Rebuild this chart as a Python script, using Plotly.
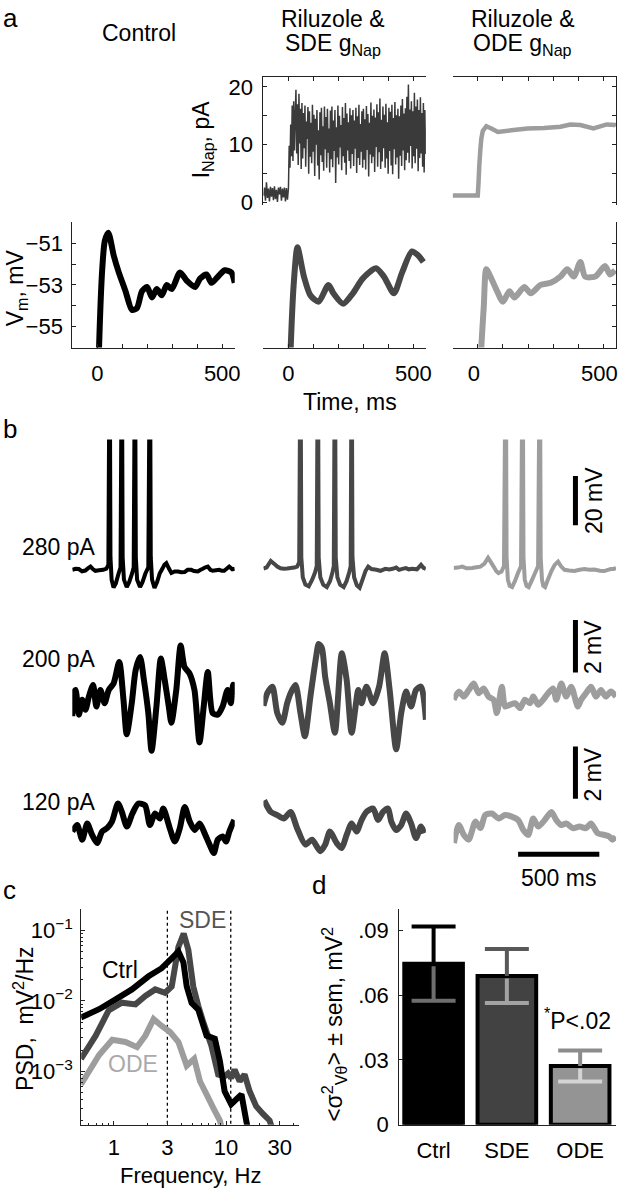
import plotly.graph_objects as go

OX, OY = 0, 0
FW, FH = 628, 1200
FONT = "Liberation Sans, Arial, Helvetica, sans-serif"
C_CTRL, C_SDE, C_ODE = "#000000", "#474747", "#9d9d9d"
TS = 22   # tick label size
LS = 23   # label size

# ================= panel a data =================
time_major = [0, 500]
time_minor = [100, 200, 300, 400]
inap_major = [0, 10, 20]
inap_minor = [5, 15]
vm_major = [-55, -53, -51]
vm_major_text = ["\u221255", "\u221253", "\u221251"]
vm_minor = [-54, -52]

# SDE I_Nap (pA): before step sampled every 4 ms from -100 ms, after step every 3 ms from 0 ms
inap_sde_pre = [1.2, 2.6, 0.3, 3.5, 0.8, 2.4, 0.2, 2.7, 1.0, 2.5, 0.4, 2.8, 0.6, 2.2, 0.1,
                2.6, 1.4, 2.7, 0.3, 2.4, 0.9, 2.6, 0.2, 2.5, 0.5]
inap_sde_post = [
    2.5, 9.8, 6.0, 13.5, 8.0, 16.8, 7.2, 17.5, 9.0, 15.0,
    19.5, 8.5, 17.0, 6.5, 18.8, 10.2, 16.2, 5.8, 17.2, 7.6,
    15.5, 9.4, 16.8, 6.2, 14.0, 11.0, 16.5, 5.0, 15.8, 7.9,
    13.8, 6.8, 16.9, 8.8, 15.2, 4.6, 14.5, 10.0, 16.0, 6.4,
    12.5, 4.0, 15.6, 8.2, 16.4, 7.0, 13.2, 5.5, 16.6, 9.2,
    14.8, 6.0, 16.2, 8.6, 12.8, 5.2, 15.9, 7.5, 16.6, 6.1,
    14.2, 8.9, 16.0, 3.4, 13.0, 7.8, 16.8, 6.6, 15.0, 9.5,
    13.4, 5.6, 16.5, 8.0, 14.6, 6.9, 17.2, 4.8, 15.4, 9.0,
    13.9, 7.2, 16.3, 5.9, 15.1, 8.4, 16.0, 6.3, 14.2, 9.3,
    16.4, 5.1, 14.9, 7.7, 16.9, 6.5, 13.6, 8.8, 15.8, 6.0,
    16.2, 7.4, 14.4, 5.7, 16.7, 9.1, 15.3, 4.5, 13.8, 8.3,
    17.3, 6.8, 15.0, 7.9, 16.1, 5.3, 14.7, 9.6, 17.0, 6.2,
    15.6, 8.7, 18.0, 5.8, 14.3, 7.1, 16.6, 9.4, 15.2, 6.0,
    17.1, 7.6, 13.9, 5.0, 16.4, 8.9, 15.7, 6.4, 16.9, 4.9,
    14.6, 9.2, 17.4, 6.6, 15.1, 7.8, 16.2, 4.1, 14.9, 8.1,
    16.8, 6.3, 17.9, 9.0, 15.4, 5.6, 16.3, 7.3, 18.3, 8.6,
    20.4, 6.9, 16.1, 9.8, 17.5, 5.9, 15.8, 8.0, 19.0, 6.8,
    16.6, 9.3, 17.8, 5.4, 16.0, 7.7, 18.2, 8.5, 15.5, 6.2,
    17.2, 5.2, 16.0, 8.4]
inap_sde_t = [-100 + 4 * i for i in range(len(inap_sde_pre))] + [3 * i for i in range(len(inap_sde_post))]
inap_sde = inap_sde_pre + inap_sde_post

inap_ode_t = [-100, 0, 3, 6, 10, 14, 20, 34, 54, 80, 133, 198, 264, 329, 368, 408, 460, 513, 546, 550]
inap_ode = [1.2, 1.2, 3.5, 6.4, 9.0, 11.0, 12.4, 13.2, 12.8, 12.2, 12.5, 12.8, 12.9, 13.1, 13.5, 13.4, 12.8, 13.5, 13.4, 13.3]

vm_ctrl_t = [0, 7, 20, 30, 44, 66, 86, 113, 139, 159, 179, 199, 219, 238, 258, 278, 298, 331, 358, 391, 411, 437, 457, 483, 510, 536, 550]
vm_ctrl = [-60, -56, -52.2, -50.9, -50.5, -51.6, -52.4, -53.3, -54.2, -54.1, -53.3, -53.1, -53.6, -53.2, -53.5, -53.0,
           -53.2, -52.4, -52.8, -53.1, -52.7, -52.5, -52.9, -52.6, -52.3, -52.4, -52.9]
vm_sde_t = [0, 9, 22, 36, 62, 88, 121, 160, 180, 219, 258, 297, 350, 382, 422, 455, 494, 520, 540]
vm_sde = [-60, -56, -52.8, -51.2, -52.6, -53.5, -53.8, -53.0, -53.4, -53.9, -53.4, -52.7, -52.2, -52.6, -53.4, -52.4,
          -51.4, -51.6, -51.9]
vm_ode_t = [0, 14, 24, 34, 54, 73, 100, 126, 146, 185, 211, 250, 290, 329, 356, 382, 408, 427, 467, 506, 526, 546]
vm_ode = [-60, -56, -54.0, -52.25, -52.7, -53.2, -53.8, -53.3, -53.6, -53.1, -53.4, -53.0, -52.9, -52.6, -52.25, -52.6,
          -51.9, -52.6, -52.6, -52.1, -52.5, -52.3]

# ================= panel b data (ms, mV relative to rest) =================
b280_ctrl_t = [0, 20, 40, 60, 80, 100, 112, 128, 142, 165, 190, 210, 222, 230, 235, 242, 254, 268, 285, 297, 305, 310,
               318, 335, 350, 368, 378, 386, 391, 399, 417, 432, 450, 468, 478, 483, 491, 506, 522, 538, 555, 567, 579,
               595, 610, 630, 651, 670, 691, 710, 732, 750, 773, 790, 803, 820, 834, 850, 864, 885, 905, 920, 935, 950,
               966, 985, 1000]
b280_ctrl = [0, 0.4, 0.3, -0.6, -0.3, 0.8, 1.3, 0.2, -0.4, -0.2, 0, 0.5, 2, 100, 5, -4, -7.2, -5.5, -1.5, 1, 100, 5,
             -4, -7, -5, -1.5, 1, 100, 5, -4, -7, -5, -1.5, 1, 100, 5, -4, -7.3, -5, -1.5, 0.5, 2, 2.7,
             0.5, -1.3, -0.7, -0.7, -1, -0.9, 0, 0, -0.5, -0.7, 0, 0.4, 1.0, 1.3, 0, -0.4, -0.2, 0, -0.4, -0.4, 0.4,
             1.3, 0.2, 0.4]
b280_sde_t = [0, 20, 45, 65, 85, 105, 126, 146, 167, 190, 207, 220, 228, 233, 242, 258, 279, 300, 318, 328, 335, 340,
              350, 368, 390, 410, 425, 433, 440, 445, 455, 472, 494, 512, 528, 537, 543, 548, 558, 575, 592, 610, 628,
              645, 665, 695, 720, 750, 775, 795, 817, 835, 855, 877, 895, 915, 945, 970, 985, 1000]
b280_sde = [0.5, 1.0, 3.6, 2.5, 1.3, 0.6, 0.4, 0.5, 0.7, 0.9, 1.3, 3, 100, 5, -3, -6, -6.7, -4, -1, 1.5, 100, 5,
            -3, -6, -7, -4.5, -1, 1.5, 100, 5, -3, -6, -7, -4.5, -1, 1.5, 100, 5, -3, -6.3, -7.3, -4, -0.5,
            1.3, 0.3, 0, -0.4, 0.4, 0.1, 0.4, 0.9, 0, 0.4, 0.7, 0.2, 0.4, 0.2, 2, 0.8, 0.4]
b280_ode_t = [0, 25, 53, 80, 114, 140, 165, 190, 212, 230, 246, 262, 276, 295, 310, 321, 326, 334, 345, 360, 378, 395,
              415, 425, 430, 438, 449, 462, 480, 500, 520, 531, 536, 544, 552, 563, 580, 602, 622, 643, 660, 683, 710,
              744, 775, 805, 835, 866, 900, 927, 950, 968, 985, 1000]
b280_ode = [0.7, 0.9, 1.3, 0.6, 0.7, 1.0, 1.3, 2.5, 4.9, 3, 1.3, -0.5, -1.3, -0.7, 1.5, 100, 5, -4, -6.5, -7, -4.5, -1.5,
            1.5, 100, 5, -4, -6.5, -7, -4.5, -1.5, 1.5, 100, 5, -4, -6.5, -7, -4, -0.5, 2, 3.3, 1.5, 0, -0.3,
            -0.5, 0, 0.3, 0, 0.1, -0.4, -0.5, 0, 0.3, 0.3, 0.8]

b200_ctrl_t = [0, 10, 20, 41, 61, 81, 102, 128, 148, 173, 199, 224, 254, 289, 315, 335, 366, 390, 417, 441, 468, 488,
               518, 545, 569, 594, 610, 640, 667, 691, 722, 752, 783, 809, 834, 864, 895, 925, 956, 976, 990, 1000]
b200_ctrl = [-0.5, 0.4, 0.5, -0.44, 0.13, -0.25, 0.25, 0.69, -0.13, 0.5, 0, 0.5, 0.75, 1.57, 0.13, -1.19, 0, 1.26,
             1.76, 0.88, -0.38, -1.82, -0.13, 1.7, 0.88, -0.13, -0.75, 0.5, 2.2, 1.38, 1.13, 0.5, -1.5, -0.13, 1.19,
             -0.38, -0.44, -0.13, 0.5, 0, 0.7, 0.3]
b200_sde_t = [0, 25, 55, 85, 116, 146, 167, 197, 228, 255, 290, 325, 340, 360, 380, 409, 440, 482, 512, 543, 584, 604,
              634, 675, 712, 746, 777, 817, 848, 878, 909, 939, 970, 1000]
b200_sde = [-0.1, 0.4, 0.63, -0.38, -0.75, 0, 0.38, 0.69, -0.38, -1.26, 0.3, 1.8, 2.26, 2.1, 1.0, 0, -1.13, 1.9, 0.9,
            -1.13, 0.5, 0, 0.63, 0, 0.63, 1.9, 0.5, -1.76, -0.38, 0.44, -0.13, 0.5, 0.63, -0.63]
b200_ode_t = [0, 32, 63, 93, 124, 154, 185, 215, 246, 266, 297, 317, 348, 378, 409, 439, 470, 490, 521, 551, 582, 612,
              632, 663, 693, 724, 765, 785, 815, 846, 876, 907, 937, 968, 1000]
b200_ode = [0.13, 0.44, 0.25, 0.5, 0.75, 0.38, 0.56, 0.25, 0.13, -0.38, 0.63, -0.13, -0.06, 0, -0.19, 0.13, 0, 0.25,
            -0.06, 0.13, 0.38, 0.56, 0.13, 0.75, 0.25, 0.63, -0.13, 0.13, 0.38, 0.63, 0.25, 0.5, 0.25, 0.44, 0.25]

b120_ctrl_t = [0, 30, 61, 92, 122, 153, 183, 214, 244, 281, 305, 336, 370, 407, 448, 478, 509, 540, 560, 600, 631, 662,
               692, 723, 753, 784, 814, 845, 871, 896, 926, 946, 967, 997]
b120_ctrl = [0, 0.25, -0.31, 0.31, -0.13, -0.44, 0, 0.13, 0.38, 1.07, 0.75, 0.19, 0.69, 1.07, 1.0, 0.25, 0.69, 0.5,
             0.88, 0.13, -0.38, 0.13, 0.94, 0.38, 0.06, 0.31, -0.06, -0.5, -0.82, -0.31, -0.19, -0.38, 0, 0.44]
b120_sde_t = [4, 45, 85, 126, 167, 207, 258, 299, 350, 380, 409, 451, 482, 512, 543, 573, 604, 634, 675, 706, 736, 767,
              787, 817, 848, 878, 909, 939, 970, 990]
b120_sde = [1.19, 0.75, 0.63, 0.5, 0.75, 0.13, -0.5, -0.31, -0.75, -0.5, 0, -0.44, -0.63, -0.13, 0.31, 0, 0.44, 0.75,
            0.88, 0.44, 0.75, 0.88, 0.38, 0.06, 0.25, 0.69, 0.31, -0.25, 0.19, -0.06]
b120_ode_t = [2, 32, 63, 93, 134, 165, 195, 236, 276, 317, 358, 398, 429, 459, 490, 521, 561, 602, 632, 663, 693, 734,
              775, 815, 846, 886, 927, 958, 978, 998]
b120_ode = [-0.44, 0.25, -0.13, -0.31, 0.38, 0.13, 0.63, 0.69, 0.5, 0.63, 0.57, 0.44, 0.06, -0.13, 0.5, 0.19, 0.44,
            0.75, 0.44, 0.25, 0.31, 0.13, 0.19, 0.13, 0.31, -0.06, -0.13, -0.19, -0.31, -0.2]

row_labels = ["280 pA", "200 pA", "120 pA"]
# scale bars: (time ms, mV start, mV end)
bar20_t, bar20_v = [750, 750], [18, 38]
bar2a_t, bar2a_v = [750, 750], [1.17, 3.17]
bar2b_t, bar2b_v = [750, 750], [1.25, 3.25]
bar500_t, bar500_v = [397, 897], [-0.87, -0.87]

# ================= panel c data =================
psd_f_ctrl = [0.51, 0.74, 1.03, 1.45, 2.04, 2.67, 3.28, 3.76, 4.17, 4.46, 4.93, 5.65, 6.7, 7.94, 8.8, 9.7, 11.1, 13.7,
              15.1, 16.4]
psd_ctrl = [0.0058, 0.0076, 0.0104, 0.0145, 0.0223, 0.029, 0.040, 0.050, 0.035, 0.016, 0.0093, 0.0075, 0.0032, 0.0029,
            0.0014, 0.00052, 0.00034, 0.00047, 0.0002, 0.0001]
psd_f_sde = [0.51, 0.69, 0.90, 1.18, 1.56, 1.91, 2.34, 2.86, 3.28, 3.76, 4.19, 4.61, 5.1, 5.65, 6.26, 7.4, 8.5, 9.7,
             10.4, 11.1, 11.9, 13.2, 14.6, 16.2, 18.5, 21.2, 24.4, 27]
psd_sde = [0.0015, 0.0032, 0.0073, 0.0094, 0.0089, 0.0117, 0.0145, 0.013, 0.016, 0.058, 0.090, 0.053, 0.016, 0.0085,
           0.005, 0.0023, 0.0009, 0.00085, 0.00093, 0.0008, 0.00105, 0.00072, 0.0009, 0.00052, 0.00032, 0.00025,
           0.0002, 0.00012]
psd_f_ode = [0.51, 0.74, 0.97, 1.27, 1.61, 1.91, 2.26, 2.67, 3.17, 3.76, 4.46, 5.2, 5.85, 6.7, 7.7, 8.8, 9.5]
psd_ode = [0.00065, 0.0017, 0.0028, 0.0026, 0.0022, 0.0032, 0.0055, 0.0044, 0.0036, 0.0026, 0.0012, 0.0015, 0.00072,
           0.00047, 0.0003, 0.0002, 0.00012]
theta_band = [3, 11]
psd_xticks = [1, 3, 10, 30]
psd_xminor = [0.6, 0.7, 0.8, 0.9, 2, 4, 5, 6, 7, 8, 9, 20, 40]
psd_yticks = [1e-3, 1e-2, 1e-1]
psd_yticktext = ["10<sup>\u22123</sup>", "10<sup>\u22122</sup>", "10<sup>\u22121</sup>"]
psd_yminor = [2e-4, 3e-4, 4e-4, 5e-4, 6e-4, 7e-4, 8e-4, 9e-4, 2e-3, 3e-3, 4e-3, 5e-3, 6e-3, 7e-3, 8e-3, 9e-3,
              2e-2, 3e-2, 4e-2, 5e-2, 6e-2, 7e-2, 8e-2, 9e-2, 2e-1]

# ================= panel d data =================
categories = ["Ctrl", "SDE", "ODE"]
var_mean = [0.0745, 0.0688, 0.0272]
var_sem = [0.0172, 0.0125, 0.0072]
d_yticks = [0, 0.03, 0.06, 0.09]
d_yticktext = ["0", ".03", ".06", ".09"]
bar_colors = ["#000000", "#424242", "#949494"]
err_out_colors = ["#000000", "#585858", "#8c8c8c"]
err_in_colors = ["#6e6e6e", "#a3a3a3", "#d4d4d4"]


# ================= helpers (pixels -> paper fractions) =================
def xd(a, b):
    return [(a - OX) / FW, (b - OX) / FW]


def yd(top, bottom):
    return [1 - (bottom - OY) / FH, 1 - (top - OY) / FH]


AX = dict(showgrid=False, zeroline=False, linecolor="#222", linewidth=1, ticks="inside", ticklen=4, tickwidth=1,
          tickcolor="#222", tickfont=dict(size=TS, family=FONT, color="black"), fixedrange=True)
MINOR = dict(ticks="inside", ticklen=4, tickwidth=1, tickcolor="#222")

fig = go.Figure()
layout = {}


def add_axes(n, xdom, ydom, xcfg, ycfg):
    xs = "" if n == 1 else str(n)
    xa = dict(AX); xa.update(domain=xdom, anchor="y" + xs); xa.update(xcfg)
    ya = dict(AX); ya.update(domain=ydom, anchor="x" + xs); ya.update(ycfg)
    layout["xaxis" + xs] = xa
    layout["yaxis" + xs] = ya
    return "x" + xs, "y" + xs


def line(ax, x, y, color, width, dash=None, smooth=False):
    ln = dict(color=color, width=width, dash=dash, simplify=False)
    if smooth:
        ln.update(shape="spline", smoothing=0.7)
    fig.add_trace(go.Scatter(x=x, y=y, mode="lines", xaxis=ax[0], yaxis=ax[1], hoverinfo="skip", line=ln))


t_range = [-100, 550]
time_top = dict(range=t_range, side="top", showline=True, tickvals=time_major, showticklabels=False,
                minor=dict(MINOR, tickvals=time_minor))
time_bottom = dict(range=t_range, showline=True, tickvals=time_major, ticktext=["0", "500"], ticklabelstandoff=6,
                   minor=dict(MINOR, tickvals=time_minor))

# ---- panel a axes
ax1 = add_axes(1, xd(266, 430), yd(76, 206), time_top,
               dict(range=[-0.5, 21.7], showline=True, tickvals=inap_major, ticktext=["0", "10", "20"],
                    ticklabelstandoff=5, minor=dict(MINOR, tickvals=inap_minor)))
ax2 = add_axes(2, xd(457, 622), yd(76, 206), time_top,
               dict(range=[-0.5, 21.7], side="right", showline=True, tickvals=inap_major, showticklabels=False,
                    minor=dict(MINOR, tickvals=inap_minor)))
ax3 = add_axes(3, xd(73, 237), yd(223, 350), time_bottom,
               dict(range=[-56, -50], showline=True, tickvals=vm_major, ticktext=vm_major_text, ticklabelstandoff=4,
                    minor=dict(MINOR, tickvals=vm_minor)))
ax4 = add_axes(4, xd(266, 430), yd(223, 350), time_bottom, dict(range=[-56, -50], visible=False))
ax5 = add_axes(5, xd(457, 622), yd(223, 350), dict(time_bottom, ticklabelshift=-4, ticklabeloverflow="allow"),
               dict(range=[-56, -50], side="right", showline=True, tickvals=vm_major, showticklabels=False,
                    minor=dict(MINOR, tickvals=vm_minor)))

line(ax1, inap_sde_t, inap_sde, "#3a3a3a", 1.5)
line(ax2, inap_ode_t, inap_ode, C_ODE, 4.5)
line(ax3, vm_ctrl_t, vm_ctrl, C_CTRL, 6, smooth=True)
line(ax4, vm_sde_t, vm_sde, C_SDE, 6, smooth=True)
line(ax5, vm_ode_t, vm_ode, C_ODE, 6, smooth=True)

# ---- panel b axes (3 rows x 3 columns, hidden)
col_px = [(73, 237), (266, 430), (458, 622)]
row_px = [(443, 600, [-10, 52.8]), (615, 770, [-2.26, 3.58]), (750, 875, [-1.32, 3.40])]
b_data = [
    [(b280_ctrl_t, b280_ctrl), (b280_sde_t, b280_sde), (b280_ode_t, b280_ode)],
    [(b200_ctrl_t, b200_ctrl), (b200_sde_t, b200_sde), (b200_ode_t, b200_ode)],
    [(b120_ctrl_t, b120_ctrl), (b120_sde_t, b120_sde), (b120_ode_t, b120_ode)],
]
colors = [C_CTRL, C_SDE, C_ODE]
b_axes = {}
n = 6
for r, (top, bot, yr) in enumerate(row_px):
    for c, (l, rr) in enumerate(col_px):
        a = add_axes(n, xd(l, rr), yd(top, bot), dict(range=[0, 1000], visible=False),
                     dict(range=yr, visible=False))
        b_axes[(r, c)] = a
        t, v = b_data[r][c]
        line(a, t, v, colors[c], 4 if r == 0 else 6, smooth=(r > 0))
        n += 1

line(b_axes[(0, 2)], bar20_t, bar20_v, "black", 5)
line(b_axes[(1, 2)], bar2a_t, bar2a_v, "black", 5)
line(b_axes[(2, 2)], bar2b_t, bar2b_v, "black", 5)
line(b_axes[(2, 2)], bar500_t, bar500_v, "black", 5)

# ---- panel c
axc = add_axes(15, xd(82, 302), yd(918, 1137),
               dict(type="log", range=[-0.29, 1.65], showline=True, tickvals=psd_xticks,
                    ticktext=[str(v) for v in psd_xticks], ticklabelstandoff=3,
                    minor=dict(MINOR, ticklen=2, tickvals=psd_xminor)),
               dict(type="log", range=[-3.76, -0.69], showline=True, tickvals=psd_yticks, ticktext=psd_yticktext,
                    ticklabelstandoff=3, minor=dict(MINOR, ticklen=2, tickvals=psd_yminor)))
for f in theta_band:
    line(axc, [f, f], [1e-4, 1], "black", 1.3, dash="dot")
line(axc, psd_f_ode, psd_ode, C_ODE, 6)
line(axc, psd_f_sde, psd_sde, C_SDE, 6)
line(axc, psd_f_ctrl, psd_ctrl, C_CTRL, 6)

# ---- panel d
axd = add_axes(16, xd(403, 622), yd(918, 1137),
               dict(range=[-0.47, 2.49], showline=True, tickvals=[0, 1, 2], ticktext=categories, ticks="",
                    ticklabelstandoff=6),
               dict(range=[0, 0.1], showline=True, tickvals=d_yticks, ticktext=d_yticktext, ticklabelstandoff=5))
fig.add_trace(go.Bar(x=[0, 1, 2], y=var_mean, width=0.8, xaxis=axd[0], yaxis=axd[1], hoverinfo="skip",
                     marker=dict(color=bar_colors, line=dict(color="black", width=4))))
cap = 0.3
for i in range(3):
    m, s = var_mean[i], var_sem[i]
    line(axd, [i, i], [m, m + s], err_out_colors[i], 4)
    line(axd, [i - cap, i + cap], [m + s, m + s], err_out_colors[i], 4)
    line(axd, [i, i], [m - s, m - 0.0012], err_in_colors[i], 4)
    line(axd, [i - cap, i + cap], [m - s, m - s], err_in_colors[i], 4)

# ================= text =================
annotations = []


def ann(text, x, y, size=LS, angle=0, color="black", xanchor="center"):
    annotations.append(dict(text=text, x=(x - OX) / FW, y=1 - (y - OY) / FH, xref="paper", yref="paper",
                            showarrow=False, textangle=angle, xanchor=xanchor, yanchor="middle",
                            font=dict(size=size, family=FONT, color=color)))


ann("a", 1, 16, size=26, xanchor="left")
ann("b", 1, 432, size=26, xanchor="left")
ann("c", 1, 899, size=26, xanchor="left")
ann("d", 322, 894, size=26)
ann("Control", 140, 31)
ann("Riluzole &amp;", 336, 17)
ann("SDE g<sub>Nap</sub>", 336, 43)
ann("Riluzole &amp;", 528, 17)
ann("ODE g<sub>Nap</sub>", 528, 43)
ann("I<sub>Nap</sub>, pA", 204, 140, angle=-90)
ann("V<sub>m</sub>, mV", 17, 289, angle=-90)
ann("Time, ms", 353, 405)
for lbl, yy in zip(row_labels, [552, 665, 810]):
    ann(lbl, 20, yy, xanchor="left")
ann("20 mV", 599, 505, angle=-90)
ann("2 mV", 599, 653, angle=-90)
ann("2 mV", 599, 782, angle=-90)
ann("500 ms", 564, 887)
ann("Ctrl", 121, 980, color=C_CTRL)
ann("SDE", 204, 930, color="#555555")
ann("ODE", 134, 1075, color="#aaaaaa")
ann("PSD,  mV<sup>2</sup>/Hz", 24, 1030, angle=-90)
ann("Frequency, Hz", 192, 1188, size=22)
ann("&lt;\u03c3<sup>2</sup><sub>V\u03b8</sub>&gt; \u00b1 sem, mV<sup>2</sup>", 337, 1035, angle=-90)
ann("<sup>*</sup>P&lt;.02", 583, 1030)

layout.update(width=FW, height=FH, margin=dict(l=0, r=0, t=0, b=0), paper_bgcolor="white",
              plot_bgcolor="rgba(0,0,0,0)", showlegend=False, annotations=annotations,
              font=dict(family=FONT, size=TS, color="black"))
fig.update_layout(**layout)
fig.write_html("out.html", config={"displayModeBar": False, "staticPlot": True},
               post_script="document.body.style.margin='0px';")
